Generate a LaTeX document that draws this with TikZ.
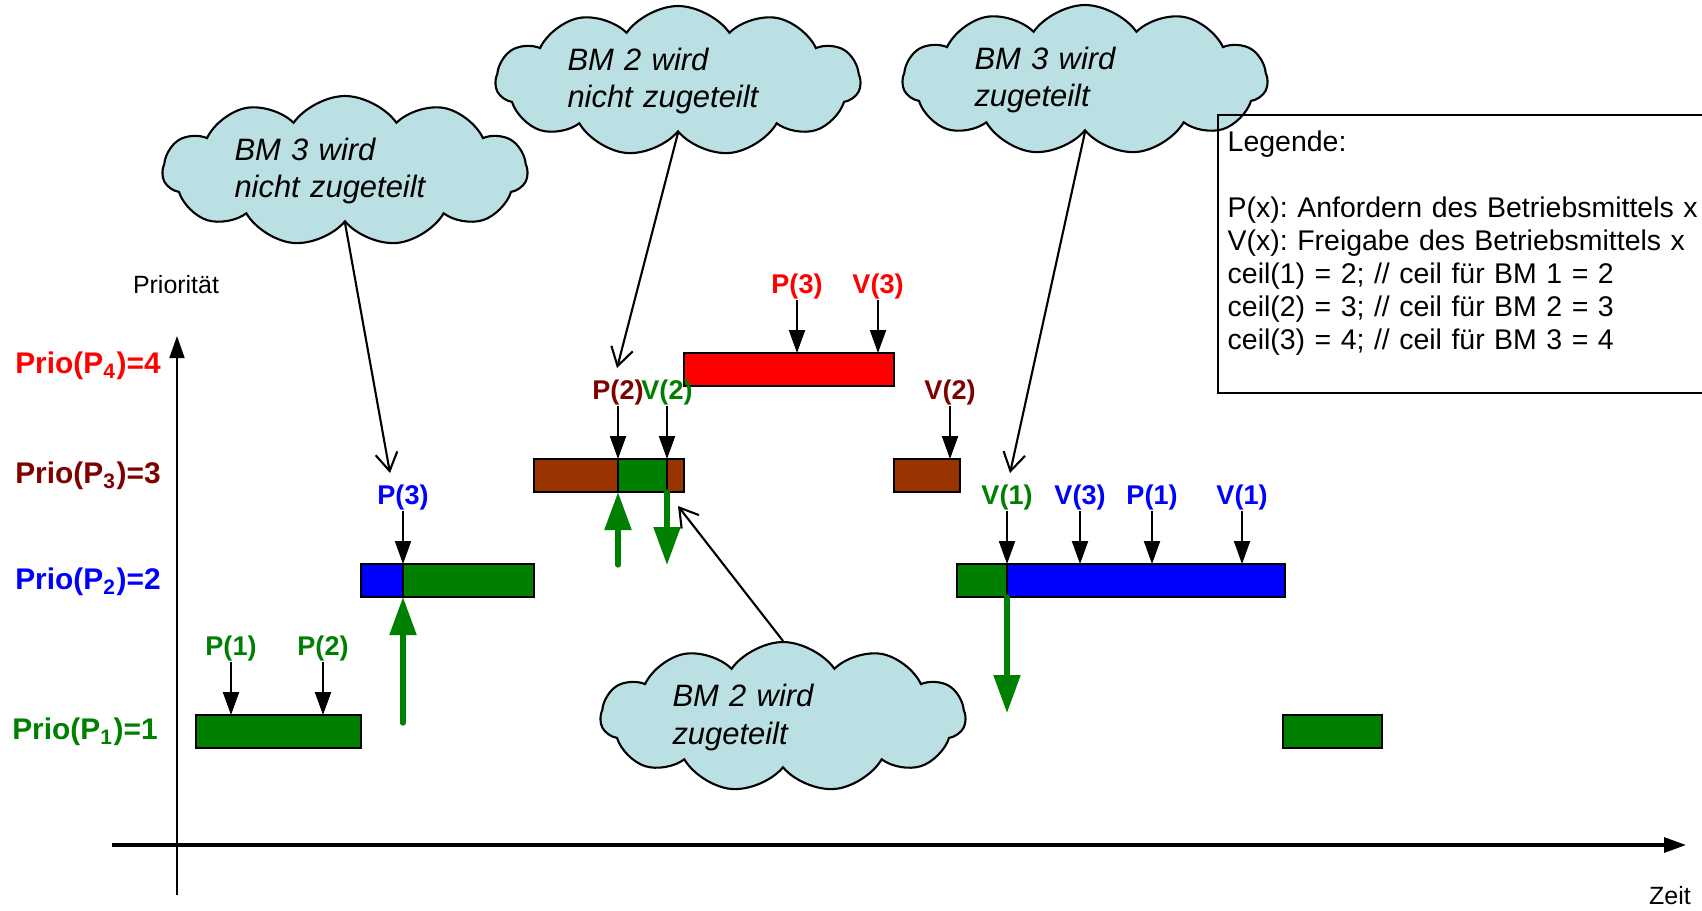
\documentclass[tikz,border=0pt]{standalone}
\usepackage{fontspec}
\setmainfont{Liberation Sans}
\usepackage{tikz}
\usetikzlibrary{positioning}
\usetikzlibrary{shapes.symbols}
\usetikzlibrary{arrows.meta}

\definecolor{prgreen}{RGB}{0,128,0}
\definecolor{prblue}{RGB}{0,0,255}
\definecolor{prred}{RGB}{255,0,0}
\definecolor{prmaroon}{RGB}{128,0,0}
\definecolor{prbrown}{RGB}{153,51,0}
\definecolor{cloudblue}{RGB}{187,224,227}

\tikzset{
  slice/.style={draw=black, line width=0.6pt, inner sep=0pt, outer sep=0pt, minimum height=3.3mm, anchor=north west},
  evlabel/.style={inner sep=0pt, font=\bfseries\fontsize{7.7pt}{9pt}\selectfont},
  evarrow/.style={-{Triangle[length=2.3mm,width=1.6mm]}, line width=0.6pt},
  ctxswitch/.style={-{Triangle[length=3.8mm,width=2.6mm]}, line width=1.5pt, draw=prgreen, line cap=round},
  notearrow/.style={-{Straight Barb[length=1.8mm,width=2.2mm]}, line width=0.6pt},
  thought/.style={cloud, cloud puffs=11, cloud puff arc=110, cloud ignores aspect, draw, line width=0.6pt,
    fill=cloudblue, minimum width=36.5mm, minimum height=15mm, inner sep=0pt, text width=22.1mm,
    align=left, font=\itshape\fontsize{8.8pt}{10.8pt}\selectfont},
  prio/.style={inner sep=0pt, font=\bfseries\fontsize{8.5pt}{9pt}\selectfont},
  timeaxis/.style={-{Triangle[length=2.2mm,width=1.5mm]}, line width=0.5pt},
  axislabel/.style={inner sep=0pt, font=\fontsize{7.1pt}{9pt}\selectfont},
  legendtext/.style={inner sep=0pt, text width=49mm, align=left, font=\frenchspacing\fontsize{8.1pt}{9.39pt}\selectfont},
}

\begin{document}
\begin{tikzpicture}[x=0.1mm, y=-0.1mm]
  \useasboundingbox (0,0) rectangle (1702,910);

  % Axes
  \coordinate (ybot) at (177,895);
  \coordinate (ytop) at (177,336);
  \coordinate (xleft) at (112,845);
  \coordinate (xright) at (1686,845);
  \draw[timeaxis] (ybot) -- (ytop);
  \draw[timeaxis, line width=0.9pt] (xleft) -- (xright);
  \node[axislabel] (prioritaet) at (176,285) {Priorität};
  \node[axislabel] (zeit) at (1670,896) {Zeit};

  % Priority levels
  \node[prio, text=prred] (lvl4) at (88,366) {Prio(P\textsubscript{4})=4};
  \node[prio, text=prmaroon] (lvl3) at (88,476) {Prio(P\textsubscript{3})=3};
  \node[prio, text=prblue] (lvl2) at (88,582) {Prio(P\textsubscript{2})=2};
  \node[prio, text=prgreen] (lvl1) at (85,732) {Prio(P\textsubscript{1})=1};

  % Bars
  \node[slice, fill=prgreen, minimum width=16.5mm] (p1a) at (196,715) {};
  \node[slice, fill=prblue, minimum width=4.2mm] (p2a) at (361,564) {};
  \node[slice, fill=prgreen, minimum width=13.1mm, right=0mm of p2a] (p2b) {};
  \node[slice, fill=prbrown, minimum width=8.4mm] (p3a) at (534,459) {};
  \node[slice, fill=prgreen, minimum width=4.9mm, right=0mm of p3a] (p3b) {};
  \node[slice, fill=prbrown, minimum width=1.7mm, right=0mm of p3b] (p3c) {};
  \node[slice, fill=prred, minimum width=21mm] (p4a) at (684,353) {};
  \node[slice, fill=prbrown, minimum width=6.6mm] (p3d) at (894,459) {};
  \node[slice, fill=prgreen, minimum width=5mm] (p2c) at (957,564) {};
  \node[slice, fill=prblue, minimum width=27.8mm, right=0mm of p2c] (p2d) {};
  \node[slice, fill=prgreen, minimum width=9.9mm] (p1b) at (1283,715) {};

  % Events
  \coordinate (ev1) at (231,715);
  \coordinate (ev2) at (323,715);
  \coordinate (ev6) at (797,353);
  \coordinate (ev7) at (878,353);
  \coordinate (ev8) at (950,459);
  \coordinate (ev10) at (1080,564);
  \coordinate (ev11) at (1152,564);
  \coordinate (ev12) at (1242,564);
  \node[evlabel, text=prgreen, above=5.3mm of ev1] (l1) {P(1)};
  \node[evlabel, text=prgreen, above=5.3mm of ev2] (l2) {P(2)};
  \node[evlabel, text=prblue, above=5.3mm of p2b.north west] (l3) {P(3)};
  \node[evlabel, text=prmaroon, above=5.3mm of p3b.north west] (l4) {P(2)};
  \node[evlabel, text=prgreen, above=5.3mm of p3b.north east] (l5) {V(2)};
  \node[evlabel, text=prred, above=5.3mm of ev6] (l6) {P(3)};
  \node[evlabel, text=prred, above=5.3mm of ev7] (l7) {V(3)};
  \node[evlabel, text=prmaroon, above=5.3mm of ev8] (l8) {V(2)};
  \node[evlabel, text=prgreen, above=5.3mm of p2d.north west] (l9) {V(1)};
  \node[evlabel, text=prblue, above=5.3mm of ev10] (l10) {V(3)};
  \node[evlabel, text=prblue, above=5.3mm of ev11] (l11) {P(1)};
  \node[evlabel, text=prblue, above=5.3mm of ev12] (l12) {V(1)};

  \draw[evarrow] (l1) -- (ev1);
  \draw[evarrow] (l2) -- (ev2);
  \draw[evarrow] (l3) -- (l3 |- p2b.north);
  \draw[evarrow] (l4) -- (l4 |- p3b.north);
  \draw[evarrow] (l5) -- (l5 |- p3b.north);
  \draw[evarrow] (l6) -- (ev6);
  \draw[evarrow] (l7) -- (ev7);
  \draw[evarrow] (l8) -- (ev8);
  \draw[evarrow] (l9) -- (l9 |- p2d.north);
  \draw[evarrow] (l10) -- (ev10);
  \draw[evarrow] (l11) -- (ev11);
  \draw[evarrow] (l12) -- (ev12);

  % Context switches
  \coordinate (sw1) at (p2b.south west |- 0,723);
  \coordinate (sw2) at (p3b.south west |- 0,565);
  \coordinate (sw3) at (p3b.south east |- 0,565);
  \coordinate (sw4) at (p2d.south west |- 0,713);
  \draw[ctxswitch] (sw1) -- (p2b.south west);
  \draw[ctxswitch] (sw2) -- (p3b.south west);
  \draw[ctxswitch] (p3b.south east) -- (sw3);
  \draw[ctxswitch] (p2d.south west) -- (sw4);

  % Clouds
  \node[thought] (bm3no) at (345,171) {BM 3 wird\\nicht zugeteilt};
  \node[thought] (bm2no) at (678,81) {BM 2 wird\\nicht zugeteilt};
  \node[thought] (bm3yes) at (1085,80) {BM 3 wird\\zugeteilt};
  \node[thought] (bm2yes) at (783,717) {BM 2 wird\\zugeteilt};

  \coordinate (t1) at (390,473);
  \coordinate (t2) at (617,368);
  \coordinate (t3) at (1010,473);
  \coordinate (t4) at (678,506);
  \draw[notearrow] (bm3no.south) -- (t1);
  \draw[notearrow] (bm2no.south) -- (t2);
  \draw[notearrow] (bm3yes.south) -- (t3);
  \draw[notearrow] (bm2yes.north) -- (t4);

  % Legend
  \node[legendtext, anchor=north west] (legend) at (1227,130) {Legende:\\[3.3mm]
    P(x): Anfordern des Betriebsmittels x\\
    V(x): Freigabe des Betriebsmittels x\\
    ceil(1) = 2; // ceil für BM 1 = 2\\
    ceil(2) = 3; // ceil für BM 2 = 3\\
    ceil(3) = 4; // ceil für BM 3 = 4};
  \draw[line width=0.6pt] (1730,115) -| (1218,393) -- (1730,393);

\end{tikzpicture}
\end{document}
